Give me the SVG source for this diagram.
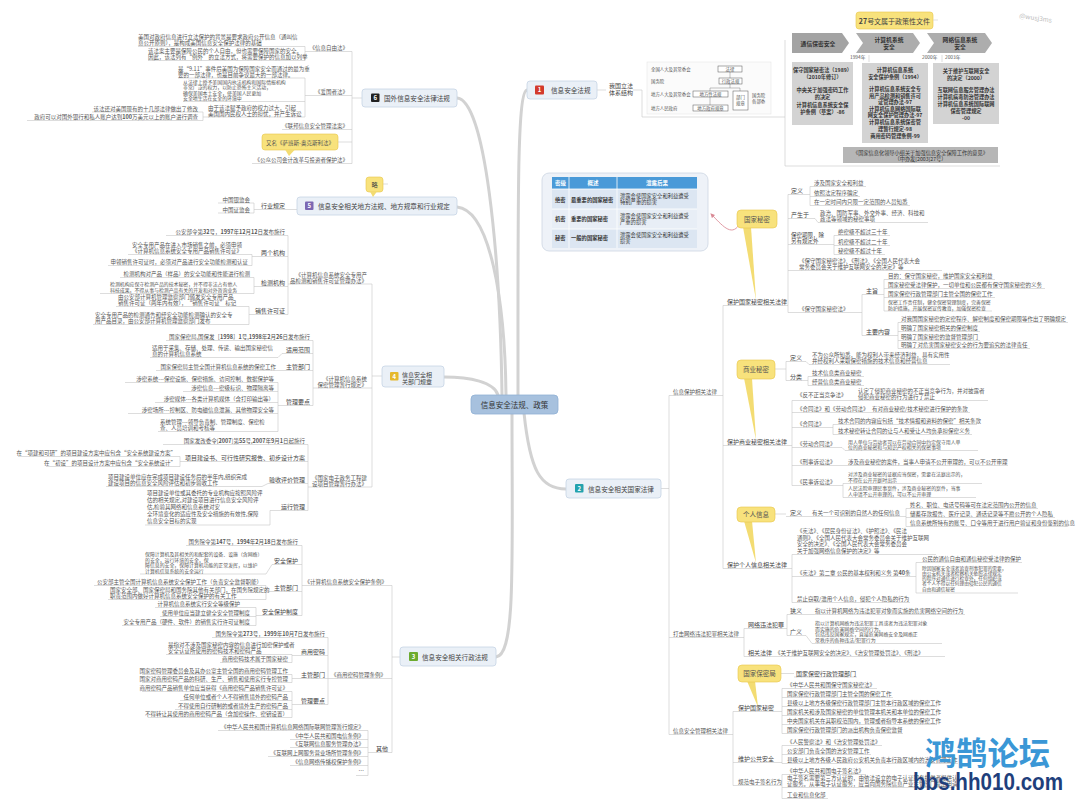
<svg xmlns="http://www.w3.org/2000/svg" width="1080" height="809" viewBox="0 0 1080 809">
<defs>
<style>
text{font-family:"Noto Sans CJK SC","Noto Sans",sans-serif;fill:#555;font-size:5.5px}
.m{font-size:6px;fill:#444}
.n{font-size:6.6px;fill:#444}
.xs{font-size:4.4px;fill:#555}
.e{text-anchor:end}
.c{text-anchor:middle}
.b{font-weight:bold}
.k{stroke:#c6c6c6;stroke-width:0.6;fill:none}
.main{stroke:#d2d2d2;stroke-width:3;fill:none;stroke-linecap:round}
.node{fill:#eaf0f7;stroke:#c7d4e4;stroke-width:0.8}
.ico{font-size:6px;fill:#fff;font-weight:bold;text-anchor:middle}
.call{fill:#f8e27c;stroke:#e8c64a;stroke-width:0.6}
.tail{fill:#f3dc72}
.gt{font-size:5.2px;fill:#333;font-weight:bold;text-anchor:middle}
.hb{fill:#fff;stroke:#555;stroke-width:0.5}
.tb{font-size:5.3px;fill:#333}
.sm{font-size:4.9px}
.xsm{font-size:4.7px}
</style>
<marker id="ah" viewBox="0 0 10 10" refX="8" refY="5" markerWidth="5" markerHeight="5" orient="auto"><path d="M0,0 L10,5 L0,10z" fill="#d98a95"/></marker>
</defs>
<rect width="1080" height="809" fill="#fff"/>

<g id="connectors">
<path class="main" d="M518,395 C518,200 517,92 527,90"/>
<path class="main" d="M502,395 C500,250 485,100 457,98"/>
<path class="main" d="M506,395 C505,300 490,210 457,207"/>
<path class="main" d="M498,395 C494,382 470,377 444,377"/>
<path class="main" d="M512,413 C512,560 516,655 496,657"/>
<path class="main" d="M524,413 C530,470 540,489 566,489"/>
<!-- branch 6 -->
<path class="k" d="M352,51.5 V163.5 M352,98 H362 M310,51.5 H352 M316,95.5 H352 M282,129.5 H352 M252,163.5 H352 M338,142 H352
M138,46.5 H305 M148,60.5 H305 M305,46.5 V60.5 M305,51.5 H310
M178,78 H305 M183,101.5 H305 M208,117 H305 M305,78 V117 M305,95.5 H316
M92,112 H203 M27,120.5 H203 M203,112 V120.5 M203,117 H208"/>
<!-- branch 5 -->
<path class="k" d="M254,203 V213 M254,209.5 H297 M218,203 H254 M218,213 H254 M383,184 H388"/>
<!-- branch 4 -->
<path class="k" d="M372,284 V487 M372,376 H382 M288,284 H372 M313,388 H372 M308,487 H372
M288,235.5 V314.5 M166,235.5 H288 M256,256.5 H288 M252,254.5 V265.5 M252,256.5 H256 M128,254.5 H252 M108,265.5 H252
M256,286.5 H288 M254,277.5 V293.5 M254,286.5 H256 M120,277.5 H254 M100,293.5 H254
M252,314.5 H288 M249,306.5 V324.5 M249,314.5 H252 M116,306.5 H249 M93,324.5 H249
M313,340.5 V405.5 M166,340.5 H313 M282,353.5 H313 M150,357.5 H278 L282,353.5 M282,370.5 H313 M156,370.5 H282
M282,405.5 H313 M278,382.5 V431.5 M278,405.5 H282 M125,382.5 H278 M183,391.5 H278 M155,402.5 H278 M128,413.5 H278 M158,431.5 H278
M308,444.5 V510.5 M163,444.5 H308 M188,461.5 H308 M180,456.5 V466.5 M180,461.5 H188 M18,456.5 H180 M46,466.5 H180
M268,483.5 H308 M106,486.5 H262 L268,483.5 M280,510.5 H308 M145,525 H270 V510.5 H280"/>
<!-- branch 3 -->
<path class="k" d="M392,585.5 V752.5 M392,657 H400 M302,585.5 H392 M328,678.5 H392 M374,752.5 H392
M302,545.5 V615.5 M186,545.5 H302 M272,564.5 H302 M140,574 H266 L272,564.5
M272,591.5 H302 M266,585.5 V599.5 M266,591.5 H272 M94,585.5 H266 M108,599.5 H266
M262,615.5 H302 M256,607.5 V625.5 M256,615.5 H262 M155,607.5 H256 M160,616.5 H256 M122,625.5 H256
M328,637.5 V704.5 M212,637.5 H328 M298,655.5 H328 M292,654.5 V662.5 M292,655.5 H298 M166,654.5 H292 M220,662.5 H292
M298,678.5 H328 M292,674.5 V682.5 M292,678.5 H298 M142,674.5 H292 M142,682.5 H292
M298,704.5 H328 M292,691.5 V717.5 M292,704.5 H298 M142,691.5 H292 M180,700.5 H292 M175,709.5 H292 M148,717.5 H292
M368,730.5 V775.5 M368,752.5 H374 M218,730.5 H368 M290,739.5 H368 M290,747.5 H368 M268,756.5 H368 M290,765.5 H368 M356,775.5 H368"/>
<!-- branch 2 -->
<path class="k" d="M661,488.5 H669 M669,395.5 V734.5 M669,395.5 H723 M723,305.5 V568.5 M723,305.5 H788 M723,445.5 H788 M723,568.5 H788 M669,637.5 H744 M669,734.5 H733
M788,194.5 V312.5 M788,194.5 H810 M810,186.5 V205.5 M810,186.5 H866 M810,196.5 H860 M810,205.5 H910
M788,218.5 H815 L818,222.5 H928 M788,244.5 H834 M834,235.5 V254.5 M834,235.5 H890 M834,245.5 H890 M834,254.5 H885
M788,270.5 H942 M788,312.5 H862 M862,294.5 V335.5 M862,294.5 H884 M884,279.5 V311 M884,279.5 H995 M884,288.5 H1045 M884,297.5 H995 M884,311 H992
M862,335.5 H898 M898,322.5 V348.5 M898,322.5 H1068 M898,331.5 H980 M898,340.5 H980 M898,348.5 H1030
M775,369 H786 M786,361.5 V380.5 M786,361.5 H806 L809,364.5 H950 M786,380.5 H808 M808,376.5 V385.5 M808,376.5 H864 M808,385.5 H864
M788,445.5 H792 M792,400.5 V485.5 M792,400.5 H988 M792,412.5 H970 M792,427.5 H833 M833,424.5 V434.5 M833,424.5 H977 M833,434.5 H972
M792,447.5 H842 L845,450.5 H978 M792,465.5 H1008 M792,485.5 H843 M843,483.5 V497.5 M843,483.5 H982 M843,497.5 H976
M775,514 H786 M786,516.5 H906 M906,508.5 V526.5 M906,508.5 H1038 M906,517.5 H1055 M906,526.5 H1068
M788,568.5 H792 M792,554.5 V602.5 M792,554.5 H936 M792,576.5 H916 M916,562.5 V593 M916,562.5 H1022 M916,593 H1018 M792,602.5 H910
M744,628.5 V656.5 M744,628.5 H787 M787,614.5 V635.5 M787,614.5 H965 M787,635.5 H806 L812,643.5 H942 M744,656.5 H945
M733,711.5 V785.5 M781,673.5 H794 M794,677 H857 M733,711.5 H782 M782,688.5 V733.5 M782,688.5 H877 M782,697.5 H893 M782,706.5 H937 M782,715.5 H937 M782,724.5 H937 M782,733.5 H903
M733,762.5 H782 M782,745.5 V763.5 M782,745.5 H882 M782,754.5 H871 M782,763.5 H958
M733,785.5 H782 M782,774.5 V798.5 M782,774.5 H866 M782,787.5 H955 M782,798.5 H828"/>
<!-- branch 1 -->
<path class="k" d="M597,90 H606 M633,90 H642 V117 H785 M785,40 V166 H1000"/>
<path d="M739,225 C731,237 722,225 711,214" fill="none" stroke="#dd8f9a" stroke-width="0.9" marker-end="url(#ah)"/>
</g>

<g id="center">
<rect x="471" y="395" width="87" height="19" rx="4" fill="#a7c1de" stroke="#8fb0d4" stroke-width="0.8"/>
<text class="c" x="514.5" y="407.5" style="font-size:7.5px;fill:#333">信息安全法规、政策</text>
</g>

<g id="n1">
<rect class="node" x="527" y="81" width="70" height="18" rx="3"/>
<rect x="535" y="85.5" width="9" height="9" rx="1" fill="#d33a2c"/>
<text class="ico" x="539.5" y="92.3">1</text>
<text class="n" x="551" y="93">信息安全法规</text>
<text class="m" x="609" y="88">我国立法</text>
<text class="m" x="609" y="95">体系结构</text>
</g>

<g id="n1-hierarchy">
<rect x="647" y="62" width="124" height="52" fill="#fbfbfb" stroke="#e6e6e6" stroke-width="0.6"/>
<text class="xs" x="651" y="70.5">全国人大及其常委会</text>
<text class="xs" x="651" y="82.5">国务院</text>
<text class="xs" x="651" y="95.5">地方人大及其常委会</text>
<text class="xs" x="651" y="109.5">地方人民政府</text>
<path d="M730,72 V78 M730,84 V88 H710 V91 M730,88 H740 V91 M710,97 V105" stroke="#666" stroke-width="0.4" fill="none"/>
<rect class="hb" x="718" y="66" width="24" height="6"/>
<text class="xs c" x="730" y="70.8">法律</text>
<rect class="hb" x="719" y="78" width="23" height="6"/>
<text class="xs c" x="730.5" y="82.8">行政法规</text>
<rect class="hb" x="693" y="91" width="35" height="6"/>
<text class="xs c" x="710.5" y="95.8">地方性法规</text>
<rect class="hb" x="693" y="105" width="35" height="6"/>
<text class="xs c" x="710.5" y="109.8">地方政府规章</text>
<rect class="hb" x="733" y="91" width="15" height="19"/>
<text class="xs c" x="740.5" y="99">部门</text>
<text class="xs c" x="740.5" y="105">规章</text>
<text class="xs" x="752" y="97">国务院</text>
<text class="xs" x="752" y="103">各部委</text>
</g>

<g id="n1-timeline">
<rect class="call" x="856" y="12" width="77" height="17" rx="3"/>
<text class="c" x="894.5" y="23.5" style="font-size:7px;fill:#444"><tspan class="b">27</tspan>号文属于政策性文件</text>
<path d="M933,20 H938" stroke="#ccc" stroke-width="0.6"/>
<polygon points="792,33 842,33 849,43 842,53 792,53" fill="#a3a3a3"/>
<text class="gt" x="818" y="45.5" style="font-size:5.8px">通信保密安全</text>
<polygon points="856,33 913,33 920,43 913,53 856,53 863,43" fill="#adadad"/>
<text class="gt" x="889" y="42" style="font-size:5.8px">计算机系统</text>
<text class="gt" x="889" y="49" style="font-size:5.8px">安全</text>
<polygon points="927,33 985,33 992,43 985,53 927,53 934,43" fill="#adadad"/>
<text class="gt" x="960" y="42" style="font-size:5.8px">网络信息系统</text>
<text class="gt" x="960" y="49" style="font-size:5.8px">安全</text>
<text x="850" y="59" style="font-size:4.8px">1994年</text>
<text x="922" y="59" style="font-size:4.8px">2000年</text>
<text x="945" y="59" style="font-size:4.8px">2003年</text>
<path d="M869,55 V62 M942,55 V62" stroke="#bbb" stroke-width="0.5"/>
<rect x="792" y="62" width="61" height="63" fill="#d3d3d3"/>
<text class="gt" x="822.5" y="72">保守国家秘密法（1989）</text>
<text class="gt" x="822.5" y="79">（2010年修订）</text>
<text class="gt" x="822.5" y="92">中央关于加强密码工作</text>
<text class="gt" x="822.5" y="99">的决定</text>
<text class="gt" x="822.5" y="107">计算机信息系统安全保</text>
<text class="gt" x="822.5" y="114">护条例（草案）-86</text>
<rect x="862" y="63" width="66" height="80" fill="#d3d3d3"/>
<text class="gt" x="895" y="72">计算机信息系统</text>
<text class="gt" x="895" y="78.5">安全保护条例（1994）</text>
<text class="gt" x="895" y="91">计算机信息系统安全专</text>
<text class="gt" x="895" y="97.5">用产品检测和销售许可</text>
<text class="gt" x="895" y="104">证管理办法-97</text>
<text class="gt" x="895" y="110.5">计算机信息网络国际联</text>
<text class="gt" x="895" y="117">网安全保护管理办法-97</text>
<text class="gt" x="895" y="124">计算机信息系统保密管</text>
<text class="gt" x="895" y="130.5">理暂行规定-98</text>
<text class="gt" x="895" y="138">商用密码管理条例-99</text>
<rect x="933" y="63" width="66" height="61" fill="#d3d3d3"/>
<text class="gt" x="966" y="73">关于维护互联网安全</text>
<text class="gt" x="966" y="80">的决定（2000）</text>
<text class="gt" x="966" y="92">互联网信息服务管理办法</text>
<text class="gt" x="966" y="99">计算机病毒防治管理办法</text>
<text class="gt" x="966" y="106">计算机信息系统国际联网</text>
<text class="gt" x="966" y="113">保密管理规定</text>
<text class="gt" x="966" y="120">-00</text>
<rect x="843" y="147" width="155" height="16" fill="#b6b6b6"/>
<text class="gt" x="920.5" y="154.5" style="font-weight:normal">《国家信息化领导小组关于加强信息安全保障工作的意见》</text>
<text class="gt" x="920.5" y="161" style="font-weight:normal">（中办发[2003]27号）</text>
</g>

<g id="n6">
<rect class="node" x="362" y="89" width="95" height="18" rx="3"/>
<rect x="371" y="93.5" width="8.5" height="8.5" rx="1" fill="#222"/>
<text class="ico" x="375.2" y="100">6</text>
<text class="n" x="384" y="100.5">国外信息安全法律法规</text>
</g>
<g id="n6-children">
<text class="e" x="348" y="50">《信息自由法》</text>
<text class="e" x="348" y="94">《爱国者法》</text>
<text class="e" x="348" y="128">《联邦信息安全管理法案》</text>
<text class="e" x="348" y="162">《公众公司会计改革与投资者保护法》</text>
<text x="138" y="39">美国对政府信息进行立法保护的背景是要求政府公开信息（通叫信<tspan x="138" y="45">息公开原则），是构成美国信息安全保护法律的基础</tspan></text>
<text x="148" y="53">该法案主要是保障公民的个人自由，但也需要保障国家的安全。<tspan x="148" y="59">因此，该法列有“例外”的立法方式，将需要保护的信息加以列举</tspan></text>
<text x="178" y="70.5">是“9.11”事件后美国为保障国家安全而通过的最为重<tspan x="178" y="76.5">要的一部法律，也是目前争议最大的一部法律。</tspan></text>
<text class="sm" x="183" y="83.5">从法律上授予美国国内执法机构和国际情报机构<tspan x="183" y="89">非常广泛的权力，以防止恐怖主义活动，</tspan><tspan x="183" y="94.5">确保美国本土安全，使美国人民更加</tspan><tspan x="183" y="100">安全地生活在安全的环境中</tspan></text>
<text x="208" y="109.5">由于该法赋予政府的权力过大，引起<tspan x="208" y="115.5">美国国内民权人士的担忧，并产生诉讼</tspan></text>
<text class="e" x="198" y="110.5">该法还对美国现有的十几部法律做出了修改</text>
<text class="e" x="198" y="119">政府可以对国外银行和私人账户达到<tspan class="b">100</tspan>万美元以上的账户进行调查</text>
<rect class="call" x="262" y="134" width="76" height="16" rx="3"/>
<polygon class="tail" points="285,149.5 295,149.5 289,156"/>
<text class="c" x="300" y="144.5">又名《萨班斯-奥克斯利法》</text>
</g>

<g id="n5">
<rect class="node" x="297" y="197" width="160" height="18" rx="3"/>
<rect x="305" y="201.5" width="8.5" height="8.5" rx="1" fill="#7c68b2"/>
<text class="ico" x="309.2" y="208">5</text>
<text class="n" x="318" y="209">信息安全相关地方法规、地方规章和行业规定</text>
<rect class="call" x="366" y="177" width="17" height="15" rx="3"/>
<polygon class="tail" points="370,191.5 377,191.5 373,197"/>
<text class="c" x="374.5" y="187" style="font-size:6.2px;fill:#444">略</text>
<text class="m e" x="285" y="208">行业规定</text>
<text class="e" x="250" y="201.5">中国银监会</text>
<text class="e" x="250" y="211.5">中国证监会</text>
</g>

<g id="n4">
<rect class="node" x="382" y="366" width="62" height="21" rx="3"/>
<rect x="390" y="372" width="8.5" height="8.5" rx="1" fill="#e5b82c"/>
<text class="ico" x="394.2" y="378.5">4</text>
<text class="m" x="402" y="376.5">信息安全相</text>
<text class="m" x="402" y="383.5">关部门规章</text>
</g>
<g id="n4-product-license">
<text class="e" x="367" y="276.5">《计算机信息系统安全专用产</text>
<text class="e" x="367" y="282.5">品检测和销售许可证管理办法》</text>
<text class="e" x="285" y="234">公安部令第<tspan class="b">32</tspan>号，<tspan class="b">1997</tspan>年<tspan class="b">12</tspan>月<tspan class="b">12</tspan>日发布施行</text>
<text class="m e" x="285" y="255">两个机构</text>
<text x="132" y="247">安全专用产品在进入市场销售之前，必须申领<tspan x="132" y="253">《计算机信息系统安全专用产品销售许可证》</tspan></text>
<text class="e" x="248" y="264">申领销售许可证时，必须对产品进行安全功能检测和认证</text>
<text class="m e" x="285" y="285">检测机构</text>
<text class="e" x="250" y="276">检测机构对产品（样品）的安全功能和性能进行检测</text>
<text class="sm" x="110" y="286">检测机构应保守检测产品的技术秘密，并不得非法占有他人<tspan x="110" y="291.8">科技成果，不得从事与检测产品有关的开发和对外咨询业务</tspan></text>
<text class="m e" x="285" y="313">销售许可证</text>
<text x="118" y="299">由公安部计算机管理监察部门颁发安全专用产品<tspan x="118" y="305">销售许可证（两年内有效），“销售许可证”标记</tspan></text>
<text x="95" y="317">安全专用产品的检测通告和经安全功能检测确认的安全专<tspan x="95" y="323">用产品目录，由公安部计算机管理监察部门发布</tspan></text>
</g>
<g id="n4-secrecy">
<text class="e" x="367" y="380.5">《计算机信息系统</text>
<text class="e" x="367" y="386.5">保密管理暂行规定》</text>
<text class="e" x="310" y="339">国家保密局,国保发［<tspan class="b">1998</tspan>］<tspan class="b">1</tspan>号,<tspan class="b">1998</tspan>年<tspan class="b">2</tspan>月<tspan class="b">26</tspan>日发布施行</text>
<text class="m e" x="310" y="352">适用范围</text>
<text x="152" y="350">适用于采集、存储、处理、传递、输出国家秘密信<tspan x="152" y="356">息的计算机信息系统</tspan></text>
<text class="m e" x="310" y="369">主管部门</text>
<text class="e" x="276" y="369">国家保密局主管全国计算机信息系统的保密工作</text>
<text class="m e" x="310" y="404">管理要点</text>
<text class="e" x="274" y="381">涉密系统---保密设施、保密措施、访问控制、数据保护等</text>
<text class="e" x="274" y="390">涉密信息---密级标识、物理隔离等</text>
<text class="e" x="274" y="401">涉密媒体---各类计算机媒体（含打印输出等）</text>
<text class="e" x="274" y="412">涉密场所---控制区、防电磁信息泄漏、其他物理安全等</text>
<text x="160" y="424">系统管理---领导负责制、管理制度、保密检<tspan x="160" y="430">查、人员培训和考核等</tspan></text>
</g>
<g id="n4-egov">
<text class="e" x="367" y="479.5">《国家电子政务工程建</text>
<text class="e" x="367" y="485.5">设项目管理暂行办法》</text>
<text class="e" x="305" y="443">国家发改委令[<tspan class="b">2007</tspan>]第<tspan class="b">55</tspan>号,<tspan class="b">2007</tspan>年<tspan class="b">9</tspan>月<tspan class="b">1</tspan>日起施行</text>
<text class="m e" x="305" y="460">项目建设书、可行性研究报告、初步设计方案</text>
<text class="e" x="176" y="455">在“项建和可研”的项目建设方案中应包含“安全系统建设方案”</text>
<text class="e" x="176" y="465">在“初设”的项目设计方案中应包含“安全系统设计”</text>
<text class="m e" x="305" y="482">验收评价管理</text>
<text x="108" y="479">项目建设单位应在完成项目建设任务后的半年内,组织完成<tspan x="108" y="485">建设项目的信息安全风险评估和初步验收工作</tspan></text>
<text class="m e" x="305" y="509">运行管理</text>
<text x="147" y="495">项目建设单位或其委托的专业机构应按照风险评<tspan x="147" y="502">估的相关规定,对建设项目进行信息安全风险评</tspan><tspan x="147" y="509">估,检验其网络和信息系统对安</tspan><tspan x="147" y="516">全环境变化的适应性及安全措施的有效性,保障</tspan><tspan x="147" y="523">信息安全目标的实现</tspan></text>
</g>

<g id="n3">
<rect class="node" x="400" y="647" width="96" height="19" rx="3"/>
<rect x="409" y="652" width="9" height="9" rx="1" fill="#6cab2f"/>
<text class="ico" x="413.5" y="658.8">3</text>
<text class="n" x="422" y="660">信息安全相关行政法规</text>
</g>
<g id="n3-protect">
<text class="e" x="387" y="584">《计算机信息系统安全保护条例》</text>
<text class="e" x="298" y="544">国务院令第<tspan class="b">147</tspan>号，<tspan class="b">1994</tspan>年<tspan class="b">2</tspan>月<tspan class="b">18</tspan>日发布施行</text>
<text class="m e" x="298" y="563">安全保护</text>
<text class="sm" x="145" y="556">保障计算机及其相关的和配套的设备、设施（含网络）<tspan x="145" y="561.5">的安全，运行环境的安全，保</tspan><tspan x="145" y="567">障信息的安全，保障计算机功能的正常发挥，以维护</tspan><tspan x="145" y="572.5">计算机信息系统的安全运行</tspan></text>
<text class="m e" x="298" y="590">主管部门</text>
<text class="e" x="262" y="584">公安部主管全国计算机信息系统安全保护工作（负责安全监督职能）</text>
<text x="110" y="592">国家安全部、国家保密局和国务院其他有关部门，在国务院规定的<tspan x="110" y="598">职责范围内做好计算机信息系统安全保护的有关工作</tspan></text>
<text class="m e" x="298" y="614">安全保护制度</text>
<text class="e" x="240" y="606">计算机信息系统实行安全等级保护</text>
<text class="e" x="250" y="615">使用单位应当建立健全安全管理制度</text>
<text class="e" x="250" y="624">安全专用产品（硬件、软件）的销售实行许可证制度</text>
</g>
<g id="n3-crypto">
<text class="e" x="386" y="677">《商用密码管理条例》</text>
<text class="e" x="325" y="636">国务院令第<tspan class="b">273</tspan>号，<tspan class="b">1999</tspan>年<tspan class="b">10</tspan>月<tspan class="b">7</tspan>日发布施行</text>
<text class="m e" x="325" y="654">商用密码</text>
<text x="168" y="647">是指对不涉及国家秘密内容的信息进行加密保护或者<tspan x="168" y="653">安全认证所使用的密码技术和密码产品</tspan></text>
<text class="e" x="288" y="661">商用密码技术属于国家秘密</text>
<text class="m e" x="325" y="677">主管部门</text>
<text class="e" x="288" y="673">国家密码管理委员会及其办公室主管全国的商用密码管理工作</text>
<text class="e" x="288" y="681">国家对商用密码产品的科研、生产、销售和使用实行专控管理</text>
<text class="m e" x="325" y="703">管理要点</text>
<text class="e" x="288" y="690">商用密码产品销售单位应当获得《商用密码产品销售许可证》</text>
<text class="e" x="288" y="699">任何单位或者个人不得销售境外的密码产品</text>
<text class="e" x="288" y="708">不得使用自行研制的或者境外生产的密码产品</text>
<text class="e" x="288" y="716">不得转让其使用的商用密码产品（含加密操作、密钥设置）</text>
</g>
<g id="n3-other">
<text class="m e" x="388" y="751">其他</text>
<text class="e" x="364" y="729">《中华人民共和国计算机信息网络国际联网管理暂行规定》</text>
<text class="e" x="364" y="738">《中华人民共和国电信条例》</text>
<text class="e" x="364" y="746">《互联网信息服务管理办法》</text>
<text class="e" x="364" y="755">《互联网上网服务营业场所管理条例》</text>
<text class="e" x="364" y="764">《信息网络传播权保护条例》</text>
<text class="e" x="364" y="773">…</text>
</g>

<g id="n2">
<rect class="node" x="566" y="479" width="95" height="19" rx="3"/>
<rect x="575" y="484" width="8.5" height="8.5" rx="1" fill="#23a2ad"/>
<text class="ico" x="579.2" y="490.5">2</text>
<text class="n" x="588" y="491.5">信息安全相关国家法律</text>
<text x="673" y="394">信息保护相关法律</text>
<text x="673" y="636">打击网络违法犯罪相关法律</text>
<text x="673" y="733">信息安全管理相关法律</text>
<text class="m" x="727" y="304">保护国家秘密相关法律</text>
<text class="m" x="727" y="444">保护商业秘密相关法律</text>
<text class="m" x="727" y="567">保护个人信息相关法律</text>
</g>

<g id="secret-table">
<rect x="542" y="173" width="166" height="78" rx="7" fill="#eef2f8" stroke="#cdd6e2" stroke-width="0.8"/>
<rect x="552" y="177" width="145" height="12" fill="#4a9ad8"/>
<rect x="552" y="189" width="145" height="20" fill="#dce6f2"/>
<rect x="552" y="209" width="145" height="20" fill="#e8eef6"/>
<rect x="552" y="229" width="145" height="19" fill="#dce6f2"/>
<path d="M569,177 V248 M617,177 V248 M552,189 H697 M552,209 H697 M552,229 H697" stroke="#fff" stroke-width="0.8"/>
<text class="c b" x="560.5" y="185" style="fill:#fff">密级</text>
<text class="c b" x="593" y="185" style="fill:#fff">概述</text>
<text class="c b" x="657" y="185" style="fill:#fff">泄露后果</text>
<text class="tb b" x="555" y="201.5">绝密</text>
<text class="tb b" x="571" y="201.5">最重要的国家秘密</text>
<text class="tb" x="620" y="197.5">泄露会使国家安全和利益遭受<tspan x="620" y="204">特别严重的损害</tspan></text>
<text class="tb b" x="555" y="221">机密</text>
<text class="tb b" x="571" y="221">重要的国家秘密</text>
<text class="tb" x="620" y="217.5">泄露会使国家安全和利益遭受<tspan x="620" y="224">严重的损害</tspan></text>
<text class="tb b" x="555" y="240">秘密</text>
<text class="tb b" x="571" y="240">一般的国家秘密</text>
<text class="tb" x="620" y="236.5">泄露会使国家安全和利益遭受<tspan x="620" y="243">损害</tspan></text>
</g>

<g id="state-secret">
<polygon class="tail" points="743,227 751,227 756,300"/>
<rect class="call" x="737" y="210" width="40" height="18" rx="4"/>
<text class="c" x="757" y="221.5" style="font-size:6.5px;fill:#555">国家秘密</text>
<text class="m" x="791" y="193">定义</text>
<text x="814" y="185">涉及国家安全和利益</text>
<text x="814" y="195">依照法定程序确定</text>
<text x="814" y="204">在一定时间内只限一定范围的人员知悉</text>
<text class="m" x="791" y="217">产生于</text>
<text x="820" y="215">政治、国防军事、外交外事、经济、科技和<tspan x="820" y="221">政法等领域的秘密事项</tspan></text>
<text x="791" y="236.5" style="fill:#444">保密期限，除<tspan x="791" y="242.8">另有规定外</tspan></text>
<text x="838" y="234">绝密级不超过三十年</text>
<text x="838" y="244">机密级不超过二十年</text>
<text x="838" y="253">秘密级不超过十年</text>
<text x="799" y="263">《保守国家秘密法》、《刑法》、《全国人民代表大会<tspan x="799" y="269">常务委员会关于维护互联网安全的决定》等</tspan></text>
<text x="799" y="311">《保守国家秘密法》</text>
<text class="m" x="866" y="293">主旨</text>
<text x="888" y="278">目的：保守国家秘密，维护国家安全和利益</text>
<text x="888" y="287">国家秘密受法律保护，一切单位和公民都有保守国家秘密的义务</text>
<text x="888" y="296">国家保密行政管理部门主管全国的保密工作</text>
<text class="sm" x="888" y="304">保密工作责任制，健全保密管理制度，完善保密<tspan x="888" y="309.5">防护措施，开展保密宣传教育，加强保密检查</tspan></text>
<text class="m" x="866" y="334">主要内容</text>
<text x="901" y="321">对我国国家秘密的定密程序、解密制度和保密期限等作出了明确规定</text>
<text x="901" y="330">明确了国家秘密相关的保密制度</text>
<text x="901" y="339">明确了国家秘密的监督管理部门</text>
<text x="901" y="347">明确了对危害国家秘密安全的行为要追究的法律责任</text>
</g>

<g id="trade-secret">
<polygon class="tail" points="744,378 752,378 756,440"/>
<rect class="call" x="737" y="360" width="38" height="19" rx="4"/>
<text class="c" x="756" y="371.5" style="font-size:6.5px;fill:#555">商业秘密</text>
<text class="m" x="790" y="360">定义</text>
<text x="812" y="357">不为公众所知悉，能为权利人带来经济利益，具有实用性<tspan x="812" y="363">并经权利人采取保密措施的技术信息和经营信息</tspan></text>
<text class="m" x="790" y="379">分类</text>
<text x="812" y="375">技术信息类商业秘密</text>
<text x="812" y="384">经营信息类商业秘密</text>
<text x="797" y="397">《反不正当竞争法》</text>
<text x="858" y="393">认定了侵犯商业秘密的不正当竞争行为，并对披露者<tspan x="858" y="399">侵犯商业秘密的行为进行了禁止</tspan></text>
<text x="797" y="411">《合同法》和《劳动合同法》</text>
<text x="872" y="411">有对商业秘密/技术秘密进行保护的条款</text>
<text x="797" y="426">《合同法》</text>
<text x="838" y="423">技术合同的内容应包括“技术情报和资料的保密”相关条款</text>
<text x="838" y="433">技术秘密转让合同的让与人和受让人均负承担保密义务</text>
<text x="797" y="446">《劳动合同法》</text>
<text class="sm" x="848" y="443.5">用人单位与劳动者可以在劳动合同中约定保守用人单<tspan x="848" y="449">位的商业秘密和与知识产权相关的保密事项</tspan></text>
<text x="797" y="464">《刑事诉讼法》</text>
<text x="848" y="464">涉及商业秘密的案件，当事人申请不公开审理的，可以不公开审理</text>
<text x="797" y="484">《民事诉讼法》</text>
<text class="sm" x="848" y="476">对涉及商业秘密的证据应当保密，需要在法庭出示的，<tspan x="848" y="481.8">不得在公开开庭时出示</tspan></text>
<text class="sm" x="848" y="490">人民法院审理民事案件，涉及商业秘密的案件，当事<tspan x="848" y="495.8">人申请不公开审理的，可以不公开审理</tspan></text>
</g>

<g id="personal-info">
<polygon class="tail" points="744,521 752,521 756,563"/>
<rect class="call" x="737" y="507" width="38" height="15" rx="4"/>
<text class="c" x="756" y="516.5" style="font-size:6.5px;fill:#555">个人信息</text>
<text class="m" x="790" y="515">定义</text>
<text x="812" y="515">有关一个可识别的自然人的任何信息</text>
<text x="910" y="507">姓名、职位、电话号码等可在法定范围内公开的信息</text>
<text x="910" y="516">储蓄存款报告、医疗记录、通话记录等不愿公开的个人隐私</text>
<text x="910" y="525">信息系统所特有的账号、口令等用于进行用户验证和身份鉴别的信息</text>
<text x="797" y="533">《宪法》、《居民身份证法》、《护照法》、《民法<tspan x="797" y="539.5">通则》、《全国人民代表大会常务委员会关于维护互联网</tspan><tspan x="797" y="546">安全的决定》、《全国人民代表大会常务委员会</tspan><tspan x="797" y="552.5">关于加强网络信息保护的决定》等</tspan></text>
<text x="797" y="575">《宪法》第二章 公民的基本权利和义务 第<tspan class="b">40</tspan>条</text>
<text x="922" y="561">公民的通信自由和通信秘密受法律的保护</text>
<text class="xsm" x="922" y="569.5">除因国家安全或者追查刑事犯罪的需要，<tspan x="922" y="574.8">由公安机关或者检察机关依照法律规定</tspan><tspan x="922" y="580.1">的程序对通信进行检查外，任何组织或</tspan><tspan x="922" y="585.4">者个人不得以任何理由侵犯公民的通信</tspan><tspan x="922" y="590.7">自由和通信秘密</tspan></text>
<text x="797" y="601">禁止窃取/滥用个人信息，侵犯个人隐私的行为</text>
</g>

<g id="cybercrime">
<text class="m" x="748" y="627">网络违法犯罪</text>
<text class="m" x="790" y="613">狭义</text>
<text x="815" y="613">指以计算机网络为违法犯罪对象而实施的危害网络空间的行为</text>
<text class="m" x="790" y="634">广义</text>
<text class="sm" x="815" y="625">指以计算机网络为违法犯罪工具或者为违法犯罪对象<tspan x="815" y="630.5">而实施的危害网络空间的行为，</tspan><tspan x="815" y="636">包括违反国家规定，直接危害网络安全及网络正</tspan><tspan x="815" y="641.5">常秩序的各种违法/犯罪行为</tspan></text>
<text class="m" x="748" y="655">相关法律</text>
<text x="775" y="655">《关于维护互联网安全的决定》、《治安管理处罚法》、《刑法》</text>
</g>

<g id="security-admin">
<polygon class="tail" points="747,681 755,681 758,707"/>
<rect class="call" x="738" y="665" width="43" height="17" rx="4"/>
<text class="c" x="759.5" y="675.8" style="font-size:6.5px;fill:#555">国家保密局</text>
<text class="m" x="796" y="675.5">国家保密行政管理部门</text>
<text class="m" x="738" y="710">保护国家秘密</text>
<text x="787" y="687">《中华人民共和国保守国家秘密法》</text>
<text x="787" y="696">国家保密行政管理部门主管全国的保密工作</text>
<text x="787" y="705">县级以上地方各级保密行政管理部门主管本行政区域的保密工作</text>
<text x="787" y="714">国家机关和涉及国家秘密的单位管理本机关和本单位的保密工作</text>
<text x="787" y="723">中央国家机关在其职权范围内，管理或者指导本系统的保密工作</text>
<text x="787" y="732">国家保密行政管理部门的派出机构负责保密监督</text>
<text class="m" x="738" y="761">维护公共安全</text>
<text x="787" y="744">《人民警察法》和《治安管理处罚法》</text>
<text x="787" y="753">公安部门负责全国的治安管理工作</text>
<text x="787" y="762">县级以上地方各级人民政府公安机关负责本行政区域内的治安管理工作</text>
<text x="738" y="784">规范电子签名行为</text>
<text x="787" y="773">《中华人民共和国电子签名法》</text>
<text x="787" y="780">电子签名需要第三方认证的，由依法设立的电子认证服务提供者提供认<tspan x="787" y="786">证服务。从事电子认证服务，应当向国务院信息产业主管部门提出申请</tspan></text>
<text x="787" y="797">工业和信息化部</text>
</g>

<g id="watermarks">
<text x="1019" y="18" transform="rotate(8 1019 18)" style="font-size:6.5px;fill:#bdbdbd">@wusj3ms</text>
<text x="925" y="765" textLength="125" lengthAdjust="spacingAndGlyphs" style="font-size:32px;font-weight:bold;fill:#3a97d6">鸿鹄论坛</text>
<text x="913" y="790" textLength="150" lengthAdjust="spacingAndGlyphs" style="font-family:'Liberation Sans',sans-serif;font-size:23px;font-weight:bold;fill:#1f3f7c">bbs.hh010.com</text>
</g>
</svg>
